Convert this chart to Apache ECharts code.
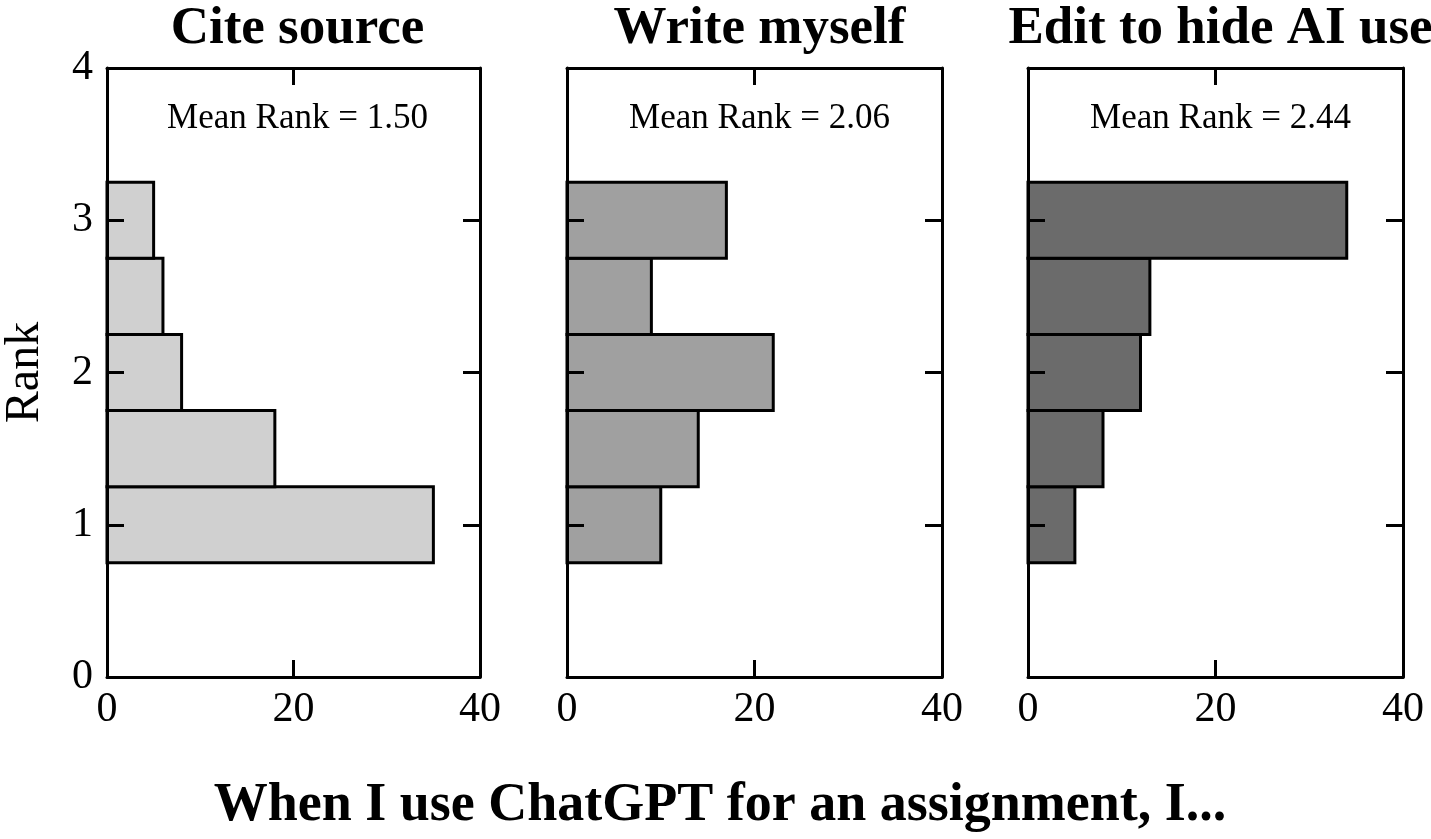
<!DOCTYPE html>
<html>
<head>
<meta charset="utf-8">
<script src="https://cdn.jsdelivr.net/npm/echarts@6/dist/echarts.min.js"></script>
<style>
  html, body { margin: 0; padding: 0; background: #fff; }
  #container { width: 1431px; height: 839px; }
</style>
</head>
<body>
<div id="container"></div>
<script>
// histogram bins (rank) and counts per panel
var rankBins = [1, 1.5, 2, 2.5, 3];
var panelTitles = ['Cite source', 'Write myself', 'Edit to hide AI use'];
var meanLabels = ['Mean Rank = 1.50', 'Mean Rank = 2.06', 'Mean Rank = 2.44'];
var citeCounts = [35, 18, 8, 6, 5];
var writeCounts = [10, 14, 22, 9, 17];
var editCounts = [5, 8, 12, 13, 34];
var xTicks = [0, 20, 40];
var yTicks = [0, 1, 2, 3, 4];

var allCounts = [citeCounts, writeCounts, editCounts];
var fills = ['#d0d0d0', '#a0a0a0', '#6b6b6b'];
var gridLeft = [105, 567, 1028];
var gridWidth = 375;
var font = '"Liberation Serif", "Times New Roman", serif';

var dom = document.getElementById('container');
var myChart = echarts.init(dom);

function makeRender(color) {
    return function (params, api) {
        var v = api.value(0);
        var c = api.value(1);
        var p0 = api.coord([0, c + 0.25]);
        var p1 = api.coord([v, c - 0.25]);
        return {
            type: 'rect',
            shape: { x: p0[0], y: p0[1], width: p1[0] - p0[0], height: p1[1] - p0[1] },
            style: { fill: color, stroke: '#000', lineWidth: 3 }
        };
    };
}

var grid = [], xAxis = [], yAxis = [], series = [], title = [];
var lineStyle = { color: '#000', width: 3 };
var tickStyle = { show: true, inside: true, length: 17, lineStyle: { color: '#000', width: 3 } };

for (var i = 0; i < 3; i++) {
    grid.push({ left: gridLeft[i], top: 68, width: gridWidth, height: 609 });

    // bottom x axis with labels
    xAxis.push({
        gridIndex: i, type: 'value', min: xTicks[0], max: xTicks[2], interval: 20,
        position: 'bottom', z: 10,
        axisLine: { show: true, onZero: false, lineStyle: lineStyle },
        axisTick: tickStyle,
        axisLabel: { show: true, margin: 12, color: '#000', fontFamily: font, fontSize: 42 },
        splitLine: { show: false }
    });
    // top x axis, ticks only
    xAxis.push({
        gridIndex: i, type: 'value', min: xTicks[0], max: xTicks[2], interval: 20,
        position: 'top', z: 10,
        axisLine: { show: true, onZero: false, lineStyle: lineStyle },
        axisTick: tickStyle,
        axisLabel: { show: false },
        splitLine: { show: false }
    });
    // left y axis
    yAxis.push({
        gridIndex: i, type: 'value', min: yTicks[0], max: yTicks[4], interval: 1,
        position: 'left', z: 10,
        name: i === 0 ? 'Rank' : '',
        nameLocation: 'middle', nameGap: 58, nameRotate: 90,
        nameTextStyle: { color: '#000', fontFamily: font, fontSize: 48 },
        axisLine: { show: true, onZero: false, lineStyle: lineStyle },
        axisTick: tickStyle,
        axisLabel: { show: i === 0, margin: 14, color: '#000', fontFamily: font, fontSize: 42 },
        splitLine: { show: false }
    });
    // right y axis, ticks only
    yAxis.push({
        gridIndex: i, type: 'value', min: yTicks[0], max: yTicks[4], interval: 1,
        position: 'right', z: 10,
        axisLine: { show: true, onZero: false, lineStyle: lineStyle },
        axisTick: tickStyle,
        axisLabel: { show: false },
        splitLine: { show: false }
    });

    var data = [];
    for (var k = 0; k < rankBins.length; k++) {
        data.push([allCounts[i][k], rankBins[k]]);
    }
    series.push({
        type: 'custom',
        xAxisIndex: i * 2,
        yAxisIndex: i * 2,
        renderItem: makeRender(fills[i]),
        encode: { x: 0, y: 1 },
        z: 2,
        data: data
    });

    var cx = gridLeft[i] + gridWidth / 2;
    title.push({
        text: panelTitles[i], left: cx, top: -2, textAlign: 'center',
        textStyle: { color: '#000', fontFamily: font, fontSize: 53, fontWeight: 'bold' }
    });
    title.push({
        text: meanLabels[i], left: cx, top: 96, textAlign: 'center',
        textStyle: { color: '#000', fontFamily: font, fontSize: 35, fontWeight: 'normal' }
    });
}

title.push({
    text: 'When I use ChatGPT for an assignment, I...', left: 715, top: 774, textAlign: 'center',
    textStyle: { color: '#000', fontFamily: font, fontSize: 54, fontWeight: 'bold' }
});

var option = {
    animation: false,
    backgroundColor: '#fff',
    title: title,
    grid: grid,
    xAxis: xAxis,
    yAxis: yAxis,
    series: series
};
myChart.setOption(option, true);
</script>
</body>
</html>
